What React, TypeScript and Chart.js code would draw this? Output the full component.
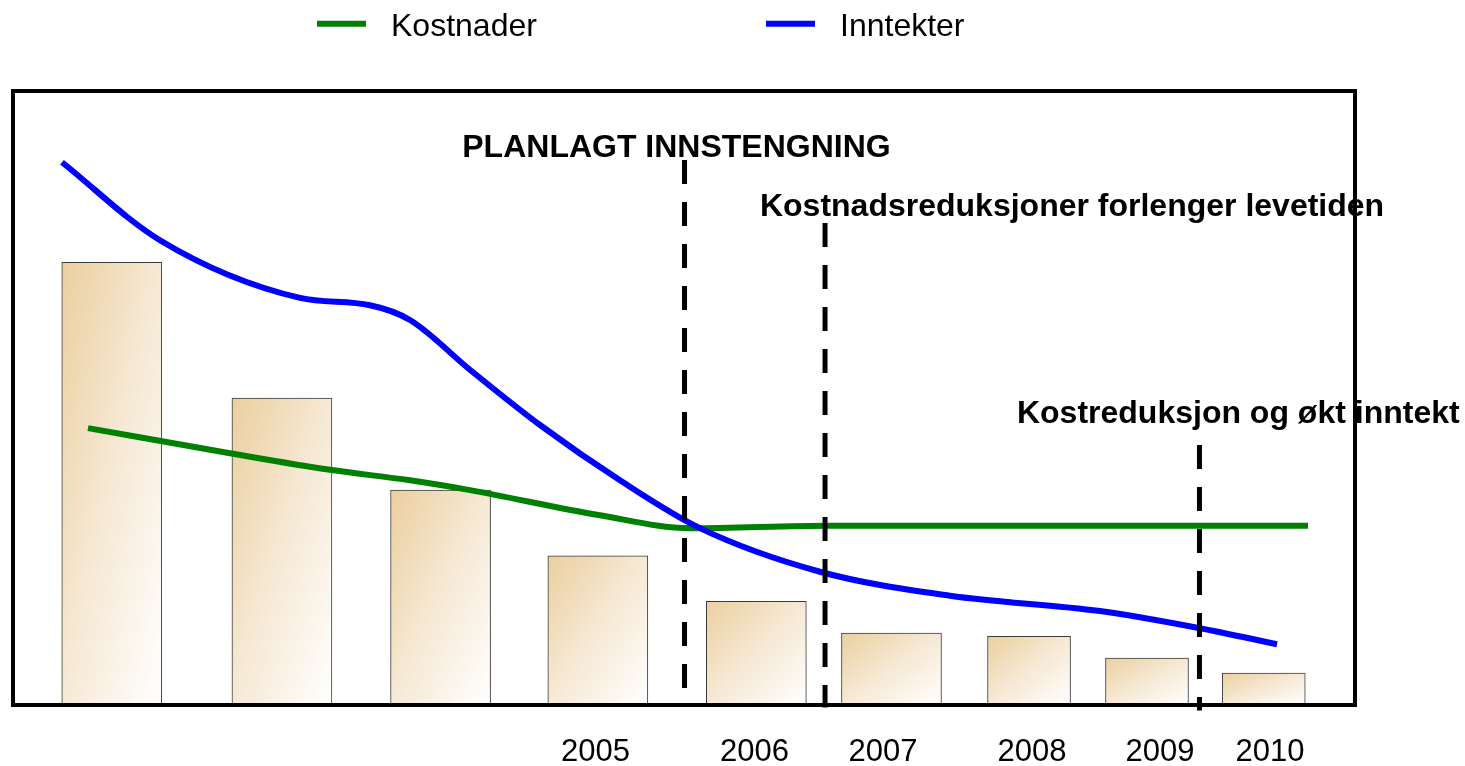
import React, { useEffect, useRef } from "react";
import { Chart, registerables } from "chart.js";

Chart.register(...registerables);

const FONT = "'Liberation Sans', Arial, Helvetica, sans-serif";

// Bars: position across the frame (0–100) and height (0–100)
const wideBarX = [7.36, 20.04, 31.86, 43.58, 55.39, 65.46];
const wideBarY = [72.1, 50.0, 35.0, 24.3, 16.9, 11.7];
const narrowBarX = [75.71, 84.5, 93.2];
const narrowBarY = [11.2, 7.65, 5.2];

// Year tick labels under the last six bars
const yearLabels = ["2005", "2006", "2007", "2008", "2009", "2010"];
const yearTickX = [43.41, 55.25, 64.83, 75.93, 85.47, 93.67];

// Series
const inntekterX = [3.65, 10.95, 21.39, 26.6, 29.58, 34.05, 39.27, 45.23, 51.19, 60.13, 69.82, 81.0, 88.45, 94.19];
const inntekterY = [88.4, 75.7, 66.3, 65.1, 62.7, 54.6, 45.6, 36.6, 28.8, 21.7, 17.8, 15.3, 12.5, 9.9];
const kostnaderX = [5.59, 16.17, 23.62, 29.58, 34.05, 43.74, 50.45, 60.88, 96.5];
const kostnaderY = [45.1, 41.0, 38.3, 36.6, 35.0, 30.9, 28.8, 29.2, 29.2];

const legendLabels = ["Kostnader", "Inntekter"];

// Dashed marker lines and their captions
const markerX = [50.04, 60.51, 88.41];
const markerTop = [88.76, 78.5, 42.35];
const markerBottom = [2.6, -0.4, -0.9];
const markerLabels = [
  "PLANLAGT INNSTENGNING",
  "Kostnadsreduksjoner forlenger levetiden",
  "Kostreduksjon og økt inntekt",
];
const markerLabelX = [49.44, 55.66, 74.81];
const markerLabelY = [89.33, 79.64, 45.93];
const markerLabelAlign: CanvasTextAlign[] = ["center", "left", "left"];

const GREEN = "#008000";
const BLUE = "#0000FF";
const TAN = "#EBCF9F";

const barFill = (c: any) => {
  if (c.type !== "data" || !c.raw) return TAN;
  const chart = c.chart;
  const xs = chart.scales && chart.scales.x;
  const ys = chart.scales && chart.scales.y;
  if (!xs || !ys) return TAN;
  const w = Number(c.dataset && c.dataset.barThickness) || 100;
  const x0 = xs.getPixelForValue(c.raw.x) - w / 2;
  const y0 = ys.getPixelForValue(c.raw.y);
  const h = ys.getPixelForValue(0) - y0;
  if (!isFinite(x0) || !isFinite(y0) || !isFinite(h) || !(h > 0)) return TAN;
  const k = (2 * w * h) / (w * w + h * h);
  const x1 = x0 + h * k;
  const y1 = y0 + w * k;
  if (!isFinite(x1) || !isFinite(y1)) return TAN;
  const g = chart.ctx.createLinearGradient(x0, y0, x1, y1);
  g.addColorStop(0, TAN);
  g.addColorStop(0.5, "#F6E9D5");
  g.addColorStop(1, "#FFFFFF");
  return g;
};

const framePlugin = {
  id: "frameAndMarkers",
  afterDatasetsDraw(chart: any) {
    const { ctx, chartArea } = chart;
    const xs = chart.scales.x;
    const ys = chart.scales.y;
    ctx.save();
    ctx.strokeStyle = "#000";
    ctx.lineWidth = 4;
    ctx.setLineDash([]);
    ctx.strokeRect(chartArea.left, chartArea.top, chartArea.right - chartArea.left, chartArea.bottom - chartArea.top);
    ctx.lineWidth = 5;
    ctx.setLineDash([24, 18]);
    ctx.lineCap = "butt";
    markerX.forEach((mx, i) => {
      const px = xs.getPixelForValue(mx);
      ctx.beginPath();
      ctx.moveTo(px, ys.getPixelForValue(markerTop[i]));
      ctx.lineTo(px, ys.getPixelForValue(markerBottom[i]));
      ctx.stroke();
    });
    ctx.setLineDash([]);
    ctx.fillStyle = "#000";
    ctx.font = `bold 32px ${FONT}`;
    ctx.textBaseline = "alphabetic";
    markerLabels.forEach((t, i) => {
      ctx.textAlign = markerLabelAlign[i];
      ctx.fillText(t, xs.getPixelForValue(markerLabelX[i]), ys.getPixelForValue(markerLabelY[i]));
    });
    ctx.restore();
  },
  afterDraw(chart: any) {
    const { ctx } = chart;
    const colors = [GREEN, BLUE];
    const starts = [317, 766];
    ctx.save();
    ctx.font = `32px ${FONT}`;
    ctx.textBaseline = "alphabetic";
    ctx.textAlign = "left";
    legendLabels.forEach((lab, i) => {
      ctx.strokeStyle = colors[i];
      ctx.lineWidth = 6;
      ctx.beginPath();
      ctx.moveTo(starts[i], 23.7);
      ctx.lineTo(starts[i] + 49, 23.7);
      ctx.stroke();
      ctx.fillStyle = "#000";
      ctx.fillText(lab, starts[i] + 74, 36);
    });
    ctx.restore();
  },
};

export default function App() {
  const ref = useRef<HTMLCanvasElement | null>(null);
  useEffect(() => {
    if (!ref.current) return;
    const chart = new Chart(ref.current, {
      type: "bar",
      data: {
        datasets: [
          {
            type: "line",
            label: legendLabels[1],
            data: inntekterX.map((x, i) => ({ x, y: inntekterY[i] })),
            borderColor: BLUE,
            backgroundColor: BLUE,
            borderWidth: 6,
            pointRadius: 0,
            cubicInterpolationMode: "monotone",
            order: 0,
          } as any,
          {
            type: "line",
            label: legendLabels[0],
            data: kostnaderX.map((x, i) => ({ x, y: kostnaderY[i] })),
            borderColor: GREEN,
            backgroundColor: GREEN,
            borderWidth: 6,
            pointRadius: 0,
            cubicInterpolationMode: "monotone",
            order: 1,
          } as any,
          {
            type: "bar",
            label: "wide",
            data: wideBarX.map((x, i) => ({ x, y: wideBarY[i] })),
            barThickness: 100,
            grouped: false,
            backgroundColor: barFill,
            borderColor: "#3a3a3a",
            borderWidth: 1,
            order: 2,
          } as any,
          {
            type: "bar",
            label: "narrow",
            data: narrowBarX.map((x, i) => ({ x, y: narrowBarY[i] })),
            barThickness: 83,
            grouped: false,
            backgroundColor: barFill,
            borderColor: "#3a3a3a",
            borderWidth: 1,
            order: 2,
          } as any,
        ],
      },
      options: {
        responsive: true,
        maintainAspectRatio: false,
        animation: false,
        layout: { padding: { left: 13, right: 110, top: 91, bottom: 0 } },
        plugins: { legend: { display: false }, tooltip: { enabled: false } },
        scales: {
          x: {
            type: "linear",
            min: 0,
            max: 100,
            offset: false,
            grid: { display: false, drawTicks: false },
            border: { display: false },
            afterBuildTicks: (s: any) => {
              s.ticks = yearTickX.map((v) => ({ value: v }));
            },
            afterFit: (s: any) => {
              s.height = 61;
            },
            ticks: {
              autoSkip: false,
              maxRotation: 0,
              padding: 31.5,
              color: "#000",
              font: { family: FONT, size: 31, lineHeight: 1 },
              callback: (_v: any, i: number) => yearLabels[i],
            },
          },
          y: { display: false, min: 0, max: 100 },
        },
      } as any,
      plugins: [framePlugin],
    });
    return () => chart.destroy();
  }, []);
  return (
    <div style={{ position: "fixed", left: 0, top: 0, width: 1465, height: 766, background: "#fff" }}>
      <canvas ref={ref} />
    </div>
  );
}
